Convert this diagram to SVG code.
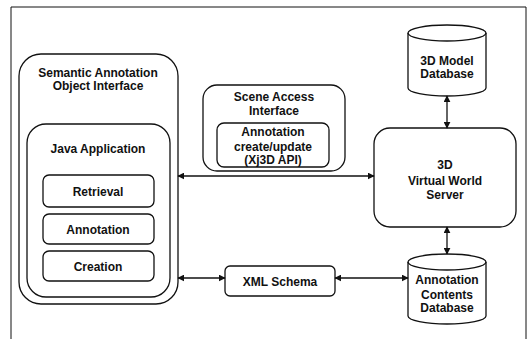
<svg xmlns="http://www.w3.org/2000/svg" width="529" height="339" viewBox="0 0 529 339">
<style>
.b{fill:#fff;stroke:#111;stroke-width:1.3}
.t{font-family:"Liberation Sans",Arial,sans-serif;font-weight:bold;font-size:12px;fill:#111;text-anchor:middle}
.c{fill:none;stroke:#111;stroke-width:1.3}
</style>
<defs>
<marker id="ah" viewBox="0 0 10 10" refX="9" refY="5" markerWidth="7" markerHeight="7" markerUnits="userSpaceOnUse" orient="auto-start-reverse">
<path d="M0,0 L10,5 L0,10 z" fill="#111"/>
</marker>
</defs>
<rect width="529" height="339" fill="#fff"/>
<path d="M11,340 V7 H526 V340" fill="none" stroke="#111" stroke-width="1"/>

<g id="semantic">
<rect class="b" x="19" y="54" width="159" height="250" rx="22"/>
<text class="t" x="98" y="76.5">Semantic Annotation</text>
<text class="t" x="98" y="89.5">Object Interface</text>
</g>
<g id="java">
<rect class="b" x="27" y="124" width="143" height="173" rx="19"/>
<text class="t" x="98" y="153">Java Application</text>
</g>
<g id="retrieval">
<rect class="b" x="43" y="175" width="111" height="32" rx="6"/>
<text class="t" x="98" y="196">Retrieval</text>
</g>
<g id="annotation">
<rect class="b" x="43" y="214" width="111" height="30" rx="6"/>
<text class="t" x="98" y="234">Annotation</text>
</g>
<g id="creation">
<rect class="b" x="43" y="251" width="111" height="30" rx="6"/>
<text class="t" x="98" y="271">Creation</text>
</g>
<g id="scene">
<rect class="b" x="203" y="85" width="142" height="86" rx="14"/>
<text class="t" x="274" y="101">Scene Access</text>
<text class="t" x="274" y="115">Interface</text>
</g>
<g id="xj3d">
<rect class="b" x="217" y="123" width="112" height="44" rx="7"/>
<text class="t" x="273" y="136">Annotation</text>
<text class="t" x="273" y="151">create/update</text>
<text class="t" x="273" y="164">(Xj3D API)</text>
</g>
<g id="modeldb">
<path class="b" d="M408,33 A39,8 0 0 1 486,33 V88 A39,8 0 0 1 408,88 Z"/>
<path class="c" d="M408,33 A39,8 0 0 0 486,33"/>
<text class="t" x="447" y="65">3D Model</text>
<text class="t" x="447" y="78">Database</text>
</g>
<g id="server">
<rect class="b" x="374" y="128" width="142" height="99" rx="16"/>
<text class="t" x="445" y="169">3D</text>
<text class="t" x="445" y="185">Virtual World</text>
<text class="t" x="445" y="199">Server</text>
</g>
<g id="xml">
<rect class="b" x="225" y="266" width="110" height="30" rx="5"/>
<text class="t" x="280" y="286">XML Schema</text>
</g>
<g id="annodb">
<path class="b" d="M408,262 A39,8 0 0 1 486,262 V316 A39,8 0 0 1 408,316 Z"/>
<path class="c" d="M408,262 A39,8 0 0 0 486,262"/>
<text class="t" x="447" y="284">Annotation</text>
<text class="t" x="447" y="299">Contents</text>
<text class="t" x="447" y="312">Database</text>
</g>

<g id="connectors">
<line class="c" x1="178" y1="176" x2="374" y2="176" marker-start="url(#ah)" marker-end="url(#ah)"/>
<line class="c" x1="178" y1="278" x2="225" y2="278" marker-start="url(#ah)" marker-end="url(#ah)"/>
<line class="c" x1="335" y1="278" x2="408" y2="278" marker-start="url(#ah)" marker-end="url(#ah)"/>
<line class="c" x1="447" y1="96" x2="447" y2="128" marker-start="url(#ah)" marker-end="url(#ah)"/>
<line class="c" x1="447" y1="227" x2="447" y2="254" marker-start="url(#ah)" marker-end="url(#ah)"/>
</g>
</svg>
